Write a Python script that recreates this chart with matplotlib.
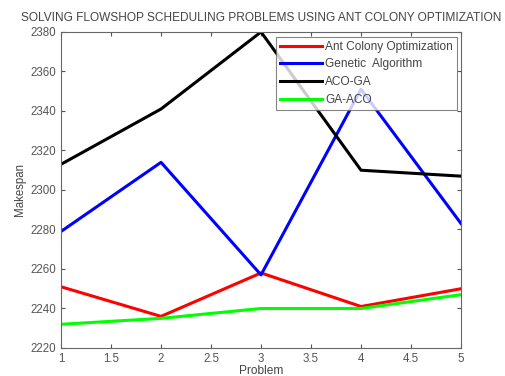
import numpy as np
import matplotlib
matplotlib.use("Agg")
import matplotlib.pyplot as plt

matplotlib.rcParams['font.family'] = 'Liberation Sans'

problems = [1, 2, 3, 4, 5]
aco = [2251, 2236, 2258, 2241, 2250]
ga = [2279, 2314, 2257, 2351, 2283]
aco_ga = [2313, 2341, 2380, 2310, 2307]
ga_aco = [2232, 2235, 2240, 2240, 2247]

xticks = [1, 1.5, 2, 2.5, 3, 3.5, 4, 4.5, 5]
xticklabels = ["1", "1.5", "2", "2.5", "3", "3.5", "4", "4.5", "5"]

fig = plt.figure(figsize=(5.06, 3.76), dpi=100)
ax = fig.add_axes([0.1206, 0.0745, 0.7905, 0.8405])

ax.plot(problems, aco, color='#ff0000', lw=2.2, label="Ant Colony Optimization")
ax.plot(problems, ga, color='#0000ff', lw=2.2, label="Genetic  Algorithm")
ax.plot(problems, aco_ga, color='black', lw=2.2, label="ACO-GA")
ax.plot(problems, ga_aco, color='#00ff00', lw=2.2, label="GA-ACO")

ax.set_xlim(1, 5)
ax.set_ylim(2220, 2380)
ax.set_xticks(xticks)
ax.set_xticklabels(xticklabels)
ax.set_yticks(np.arange(2220, 2381, 20))
ax.tick_params(direction='in', top=True, right=True, labelsize=8.3,
               colors='#555555', length=3)
for s in ax.spines.values():
    s.set_color('#666666')

ax.set_title("SOLVING FLOWSHOP SCHEDULING PROBLEMS USING ANT COLONY OPTIMIZATION",
             fontsize=8.6, color='#444444', pad=8)
ax.set_xlabel("Problem", fontsize=8.6, color='#444444', labelpad=0)
ax.set_ylabel("Makespan", fontsize=8.3, color='#444444', labelpad=3)

leg = ax.legend(loc='upper right', fontsize=8.6, frameon=True, fancybox=False,
                edgecolor='#666666', handlelength=3.5, handletextpad=0.25,
                borderaxespad=0.0, borderpad=0.35, labelspacing=0.47,
                bbox_to_anchor=(0.99, 0.985))
leg.get_frame().set_linewidth(0.8)
for t in leg.get_texts():
    t.set_color('#444444')

fig.savefig("out.png", dpi=100)
